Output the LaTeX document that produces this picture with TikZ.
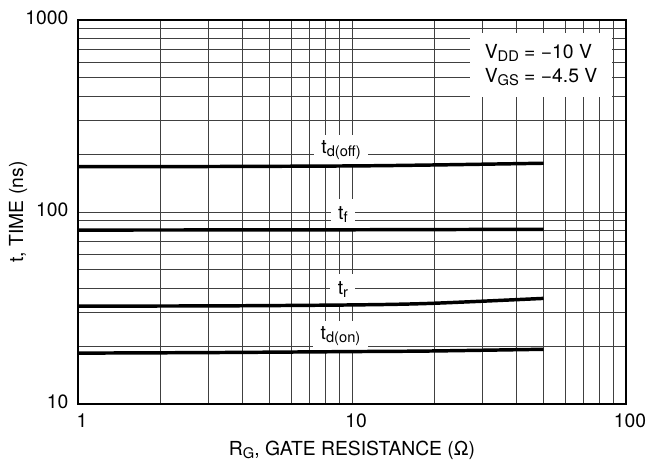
\documentclass[tikz,border=0pt]{standalone}
\usepackage{fontspec}
\setmainfont{TeX Gyre Heros}
\tikzstyle{gridline} = [black!75, line width=0.75pt]
\tikzstyle{plotframe} = [black, line width=1.5pt]
\tikzstyle{datacurve} = [black, line width=2.6pt]
\tikzstyle{txt} = [font=\fontsize{14.5pt}{18pt}\selectfont]
\tikzstyle{lbl} = [txt, fill=white, inner xsep=5.5pt, inner ysep=0pt, minimum height=23pt, anchor=south]
\newcommand{\lo}[1]{\raisebox{-0.35ex}{\fontsize{11pt}{11pt}\selectfont #1}}

\begin{document}
\fontsize{14.5pt}{18pt}\selectfont
\begin{tikzpicture}[x=205.5pt,y=144pt]
\useasboundingbox (-0.2847,-0.3229) rectangle (2.1022,2.1042);
% log grid
\foreach \d in {0,1} \foreach \m in {2,...,9} {
  \draw[gridline] ({\d+log10(\m)},0) -- ({\d+log10(\m)},2);
  \draw[gridline] (0,{\d+log10(\m)}) -- (2,{\d+log10(\m)});
}
\draw[gridline] (1,0) -- (1,2);
\draw[gridline] (0,1) -- (2,1);
\node (cond) [txt, fill=white, align=left, inner sep=0pt, minimum width=106.5pt, minimum height=48pt] at (1.690,1.766) {V\lo{DD} = −10 V\\V\lo{GS} = −4.5 V};
% curve labels
\node (toff) [lbl] at (0.96,1.240) {t\lo{d(off)}};
\node (tf) [lbl] at (0.967,0.906) {t\lo{f}};
\node (tr) [lbl] at (0.967,0.516) {t\lo{r}};
\node (ton) [lbl] at (0.958,0.273) {t\lo{d(on)}};
% curves
\draw[datacurve] plot[smooth] coordinates {(0,1.236) (0.5,1.237) (1,1.240) (1.3,1.245) (1.699,1.254)};
\draw[datacurve] plot[smooth] coordinates {(0,0.906) (0.85,0.907) (1.699,0.910)};
\draw[datacurve] plot[smooth] coordinates {(0,0.510) (0.5,0.511) (1,0.516) (1.285,0.524) (1.699,0.550)};
\draw[datacurve] plot[smooth] coordinates {(0,0.265) (0.5,0.268) (1,0.273) (1.285,0.276) (1.699,0.285)};
\draw[plotframe] (0,0) rectangle (2,2);
% axes
\foreach \e/\t in {0/10,1/100,2/1000}
  \node (ylab\e) [txt, anchor=east, inner sep=0pt, xshift=-7pt, yshift=1.5pt] at (0,\e) {\t};
\foreach \e/\t in {0/1,1/10,2/100}
  \node (xlab\e) [txt, anchor=north, inner sep=0pt, xshift=3pt, yshift=-7pt] at (\e,0) {\t};
\node (xtitle) [txt, inner sep=0pt, yshift=-34.5pt] at (1,0) {R\lo{G}, GATE RESISTANCE (Ω)};
\node (ytitle) [txt, inner sep=0pt, rotate=90] at ([xshift=-45pt]0,1) {t, TIME (ns)};
\end{tikzpicture}
\end{document}
